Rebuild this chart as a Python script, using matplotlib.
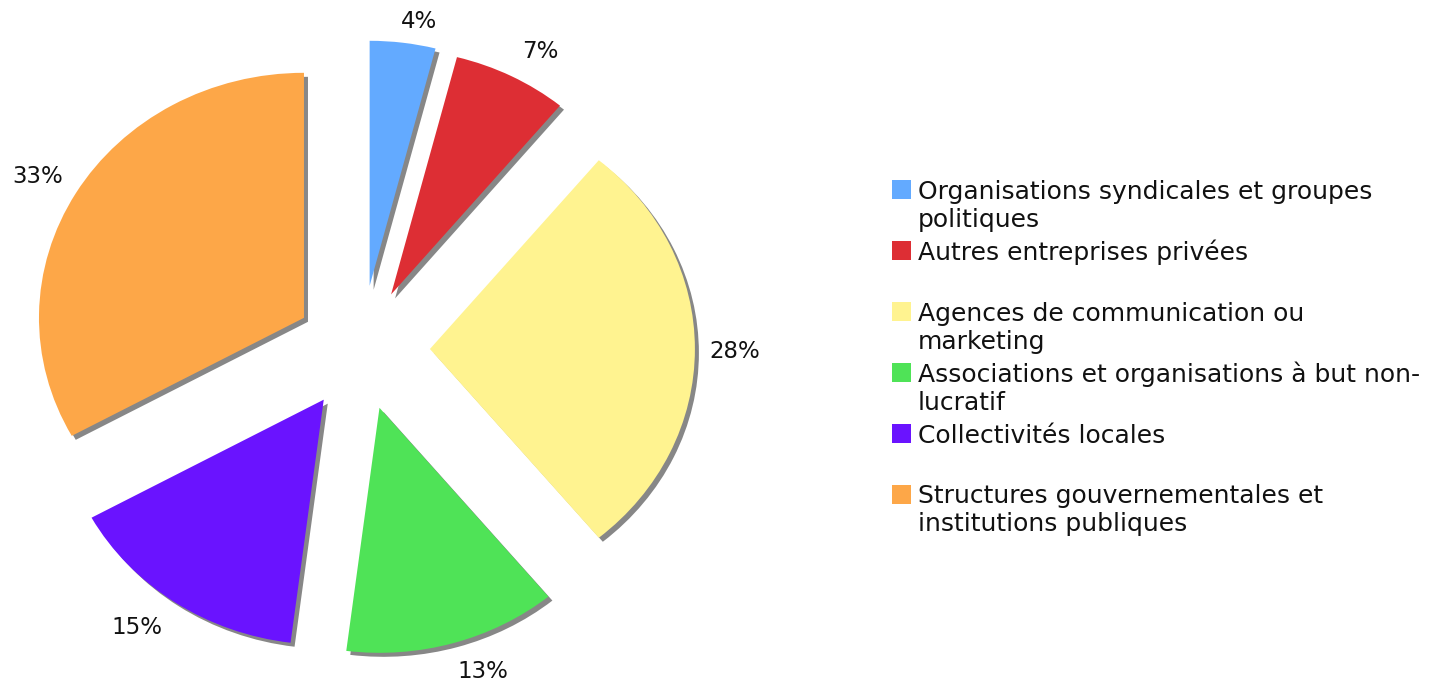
import numpy as np
import matplotlib.pyplot as plt
from matplotlib.patches import Rectangle

categories = ['Organisations syndicales et groupes\npolitiques',
              'Autres entreprises privées',
              'Agences de communication ou\nmarketing',
              'Associations et organisations à but non-\nlucratif',
              'Collectivités locales',
              'Structures gouvernementales et\ninstitutions publiques']
values = [4, 7, 28, 13, 15, 33]
colors = ['#63aaff', '#dd2e34', '#fff390', '#4fe357', '#6a13ff', '#fda748']
explode = [0.26, 0.25, 0.26, 0.25, 0.25, 0.25]

W, H = 1445, 681
fig = plt.figure(figsize=(W / 100, H / 100), dpi=100)

# pie centre and radii in pixels (the original is slightly squashed vertically)
cx, cy = 361, 349
rx, ry = 265, 245
xl, yl = 1.36, 1.35
ax = fig.add_axes([(cx - xl * rx) / W, (H - cy - yl * ry) / H,
                   2 * xl * rx / W, 2 * yl * ry / H])

# shadow
ax.pie(values, explode=explode, colors=['#878787'] * len(values), startangle=90,
       counterclock=False, center=(4 / rx, -4 / ry), wedgeprops=dict(linewidth=0))
wedges, texts, autotexts = ax.pie(values, explode=explode, colors=colors, startangle=90,
                                  counterclock=False, autopct='%1.0f%%', pctdistance=1.14,
                                  textprops=dict(fontsize=16.5, color='#111111'),
                                  wedgeprops=dict(linewidth=0))

# small nudges (pixels) so the percentages sit where the original put them
nudges = [(12, 13), (12, 6), (3, 3), (19, -5), (-17, -3), (-6, 1)]
for t, (dx, dy) in zip(autotexts, nudges):
    x, y = t.get_position()
    t.set_position((x + dx / rx, y - dy / ry))

ax.set_aspect('auto')
ax.set_xlim(-xl, xl)
ax.set_ylim(-yl, yl)
ax.axis('off')

# legend
for i, (lab, col) in enumerate(zip(categories, colors)):
    top = 180 + i * 60.9
    fig.add_artist(Rectangle((892 / W, (H - top - 19) / H), 19 / W, 19 / H,
                             transform=fig.transFigure, color=col, lw=0))
    for j, line in enumerate(lab.split('\n')):
        fig.text(918 / W, (H - (top + 19) - j * 28) / H, line, fontsize=18,
                 va='baseline', ha='left', color='#111111')

fig.savefig('out.png', dpi=100)
